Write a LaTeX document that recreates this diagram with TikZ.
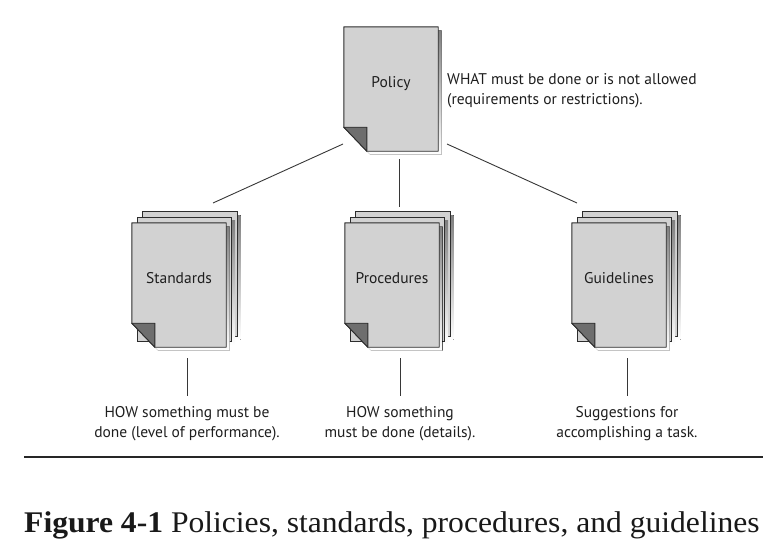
\documentclass[tikz,border=0pt]{standalone}
\usepackage{fontspec}
\setmainfont{Liberation Serif}
\newfontfamily\labfont{PT Sans}
\usetikzlibrary{calc}
\definecolor{pagefill}{RGB}{210,210,210}
\definecolor{shade}{RGB}{135,135,135}
\definecolor{foldc}{RGB}{110,110,110}
\definecolor{edge}{RGB}{45,45,45}
\definecolor{linec}{RGB}{55,55,55}
\definecolor{txt}{RGB}{30,30,30}
\pgfdeclarelayer{bg}
\pgfsetlayers{bg,main}
\newcommand\plainsheet[1]{%
  \fill[shade] ($(#1.north west)+(3.5,3.5)$) rectangle ($(#1.south east)+(3.5,3.5)$);
  \filldraw[fill=pagefill,draw=edge,line width=0.9pt] (#1.north west) rectangle (#1.south east);
}
\newcommand\foldsheet[1]{%
  \fill[shade] ($(#1.north west)+(3.5,3.5)$) -- ($(#1.north east)+(3.5,3.5)$) -- ($(#1.south east)+(3.5,3.5)$) -- ($(#1.south west)+(26.5,3.5)$) -- ($(#1.south west)+(3.5,-20.5)$) -- cycle;
  \filldraw[fill=pagefill,draw=edge,line width=0.9pt,line join=round] (#1.north west) -- (#1.north east) -- (#1.south east) -- ($(#1.south west)+(23,0)$) -- ($(#1.south west)+(0,-24)$) -- cycle;
  \filldraw[fill=foldc,draw=edge,line width=0.9pt,line join=round] ($(#1.south west)+(0,-24)$) -- ($(#1.south west)+(23,-24)$) -- ($(#1.south west)+(23,0)$) -- cycle;
}
\begin{document}
\begin{tikzpicture}[x=1pt,y=-1pt,
  docnode/.style={minimum width=94pt, minimum height=124pt, inner sep=0pt,
    text height=10pt, text depth=14pt, text=txt,
    font=\labfont\fontsize{15.5}{18}\selectfont},
  note/.style={inner sep=0pt, text=txt, align=center,
    font=\labfont\fontsize{15.5}{20}\selectfont},
  conn/.style={draw=linec, line width=0.9pt}]
\useasboundingbox (0,0) rectangle (782,554);

% Policy
\node[docnode] (pol) at (391,89) {Policy};
\node[note, anchor=base west, align=left] (polnote) at (447,104)
  {WHAT must be done or is not allowed\\(requirements or restrictions).};

% Standards stack
\node[docnode] (std3) at (190,274) {};
\node[docnode] (std2) at (184.5,279.5) {};
\node[docnode] (std) at (179,285) {Standards};
% Procedures stack
\node[docnode] (pro3) at (403,274) {};
\node[docnode] (pro2) at (397.5,279.5) {};
\node[docnode] (pro) at (392,285) {Procedures};
% Guidelines stack
\node[docnode] (gui3) at (630,274) {};
\node[docnode] (gui2) at (624.5,279.5) {};
\node[docnode] (gui) at (619,285) {Guidelines};

\begin{pgfonlayer}{bg}
  \foldsheet{pol}
  \plainsheet{std3}\plainsheet{std2}\foldsheet{std}
  \plainsheet{pro3}\plainsheet{pro2}\foldsheet{pro}
  \plainsheet{gui3}\plainsheet{gui2}\foldsheet{gui}
\end{pgfonlayer}

% connectors from policy
\coordinate (c1a) at (343,144);
\coordinate (c1b) at (213,203);
\coordinate (c2a) at (399.5,159);
\coordinate (c2b) at (399.5,207);
\coordinate (c3a) at (447,144);
\coordinate (c3b) at (577,203);
\draw[conn] (c1a) -- (c1b);
\draw[conn] (c2a) -- (c2b);
\draw[conn] (c3a) -- (c3b);

% descriptions below
\coordinate (d1a) at (187,358);
\coordinate (d1b) at (187,396);
\coordinate (d2a) at (400,358);
\coordinate (d2b) at (400,396);
\coordinate (d3a) at (627,358);
\coordinate (d3b) at (627,396);
\draw[conn] (d1a) -- (d1b);
\draw[conn] (d2a) -- (d2b);
\draw[conn] (d3a) -- (d3b);

\node[note, anchor=base] (stdnote) at (187,437)
  {HOW something must be\\done (level of performance).};
\node[note, anchor=base] (pronote) at (400,437)
  {HOW something\\must be done (details).};
\node[note, anchor=base] (guinote) at (627,437)
  {Suggestions for\\accomplishing a task.};

% rule
\coordinate (r1) at (24,457);
\coordinate (r2) at (763,457);
\draw[line width=2pt, black!85] (r1) -- (r2);

% caption
\node[anchor=base west, inner sep=0pt, text=black!90] (cap) at (24,532)
  {\scalebox{1.053}[1]{\fontsize{30}{34}\selectfont\textbf{Figure 4-1} Policies, standards, procedures, and guidelines}};
\end{tikzpicture}
\end{document}
